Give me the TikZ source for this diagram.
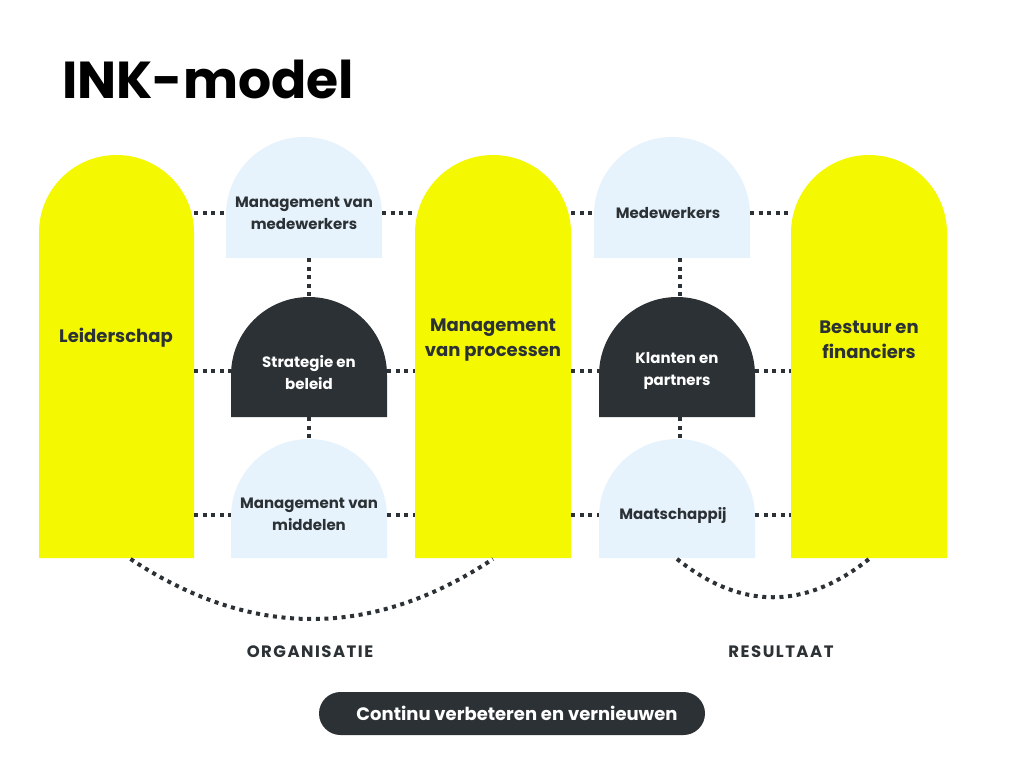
\documentclass[tikz,border=0pt]{standalone}
\usepackage{fontspec}
\setmainfont{Poppins}
\usetikzlibrary{calc}
\definecolor{inkyellow}{HTML}{F4F800}
\definecolor{inkblue}{HTML}{E6F3FD}
\definecolor{inkdark}{HTML}{2B3134}
\tikzset{
  dots/.style={draw=inkdark, line width=4pt, line cap=butt, dash pattern=on 4pt off 4.6pt},
  anchorbox/.style={inner sep=0pt, outer sep=0pt, draw=none},
  lbl/.style={align=center, text=inkdark, font=\fontsize{15}{22}\selectfont\bfseries},
  lblw/.style={lbl, text=white},
  big/.style={align=center, text=inkdark, font=\fontsize{18}{25}\selectfont\bfseries},
  foot/.style={text=inkdark, font=\fontsize{16.5}{18}\selectfont\bfseries\addfontfeature{LetterSpace=9}},
}
% \dome{name}{x1}{x2}{ytop}{ybot}{colour}
\newcommand{\dome}[6]{%
  \pgfmathsetmacro{\dr}{(#3-#2)/2}%
  \pgfmathsetmacro{\dcx}{(#2+#3)/2}%
  \pgfmathsetmacro{\dcy}{#4+\dr}%
  \fill[#6] (#2,#5) -- (#2,\dcy) arc[start angle=180, end angle=0, radius=\dr pt] -- (#3,#5) -- cycle;
  \pgfmathsetmacro{\dh}{#5-#4}%
  \pgfmathsetmacro{\dw}{#3-#2}%
  \pgfmathsetmacro{\dmy}{(#4+#5)/2}%
  \node[anchorbox, minimum width=\dw pt, minimum height=\dh pt] (#1) at (\dcx,\dmy) {};
}
\begin{document}
\begin{tikzpicture}[x=1pt,y=-1pt]
\useasboundingbox (0,0) rectangle (1024,768);
\fill[white] (0,0) rectangle (1024,768);

% title
\node[anchor=base west, inner sep=0pt, font=\fontsize{52}{60}\selectfont\bfseries, text=black] (title) at (62,98) {INK-model};

\coordinate (rowA) at (0,213);
\coordinate (rowB) at (0,371);
\coordinate (rowC) at (0,515);
\coordinate (colL) at (309,0);
\coordinate (colR) at (680,0);

% shapes
\dome{lead}{39}{194}{155}{558}{inkyellow}
\dome{mvp}{415}{571}{155}{558}{inkyellow}
\dome{bef}{791}{947}{155}{558}{inkyellow}
\dome{mmw}{226}{382}{137}{258}{inkblue}
\dome{sb}{231}{387}{297}{417}{inkdark}
\dome{mm}{231}{387}{439}{558}{inkblue}
\dome{mw}{594}{750}{137}{258}{inkblue}
\dome{kp}{599}{755}{297}{417}{inkdark}
\dome{ms}{599}{755}{439}{558}{inkblue}

% horizontal rows
\draw[dots] (lead.east |- rowA) -- (mmw.west |- rowA);
\draw[dots] (mmw.east |- rowA) -- (mvp.west |- rowA);
\draw[dots] (mvp.east |- rowA) -- (mw.west |- rowA);
\draw[dots] (mw.east |- rowA) -- (bef.west |- rowA);
\draw[dots] (lead.east |- rowB) -- (sb.west |- rowB);
\draw[dots] (sb.east |- rowB) -- (mvp.west |- rowB);
\draw[dots] (mvp.east |- rowB) -- (kp.west |- rowB);
\draw[dots] (kp.east |- rowB) -- (bef.west |- rowB);
\draw[dots] (lead.east |- rowC) -- (mm.west |- rowC);
\draw[dots] (mm.east |- rowC) -- (mvp.west |- rowC);
\draw[dots] (mvp.east |- rowC) -- (ms.west |- rowC);
\draw[dots] (ms.east |- rowC) -- (bef.west |- rowC);
% vertical
\draw[dots] (colL |- mmw.south) -- (colL |- sb.north);
\draw[dots] (colL |- sb.south) -- (colL |- mm.north);
\draw[dots] (colR |- mw.south) -- (colR |- kp.north);
\draw[dots] (colR |- kp.south) -- (colR |- ms.north);

% arcs
\draw[dots] ($(lead.south)+(14,1)$) .. controls +(121,80) and +(-121,80) .. ($(mvp.south)+(0,1)$);
\draw[dots] ($(ms.south)+(0,1)$) .. controls +(64,51) and +(-64,51) .. ($(bef.south)+(0,1)$);

% labels
\node[big] (tlead) at (116,338) {Leiderschap};
\node[big] (tmvp) at (493,340) {Management\\van processen};
\node[big] (tbef) at (869,340) {Bestuur en\\financiers};
\node[lbl] (tmmw) at (304,213) {Management van\\medewerkers};
\node[lblw] (tsb) at (309,373) {Strategie en\\beleid};
\node[lbl] (tmm) at (309,514) {Management van\\middelen};
\node[lbl] (tmw) at (668,213) {Medewerkers};
\node[lblw] (tkp) at (677,371) {Klanten en\\partners};
\node[lbl] (tms) at (673,515) {Maatschappij};

\node[foot] (org) at (310,652) {ORGANISATIE};
\node[foot] (res) at (781,652) {RESULTAAT};

% button
\node[fill=inkdark, rounded corners=21.5pt, minimum width=386pt, minimum height=43pt, inner sep=0pt] (btn) at (512,713.5) {};
\node[text=white, font=\fontsize{18}{20}\selectfont\bfseries] (btntext) at (517,713.5) {Continu verbeteren en vernieuwen};
\end{tikzpicture}
\end{document}
